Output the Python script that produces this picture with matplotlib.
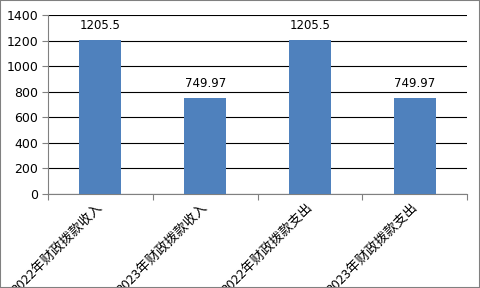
import matplotlib.pyplot as plt
from matplotlib.patches import Rectangle

plt.rcParams['font.family'] = ['Noto Sans CJK SC', 'DejaVu Sans']

categories = ['2022年财政拨款收入', '2023年财政拨款收入', '2022年财政拨款支出', '2023年财政拨款支出']
values = [1205.5, 749.97, 1205.5, 749.97]
value_labels = ['1205.5', '749.97', '1205.5', '749.97']
yticks = [0, 200, 400, 600, 800, 1000, 1200, 1400]

fig = plt.figure(figsize=(4.8, 2.88), dpi=100)
ax = fig.add_axes([48 / 480, 1 - 194 / 288, 419 / 480, 179 / 288])

x = list(range(len(categories)))
ax.bar(x, values, width=0.4, color='#4F81BD', zorder=3)
for xi, v, lab in zip(x, values, value_labels):
    ax.text(xi, v + 65, lab, ha='center', va='bottom', fontsize=8.5, family='DejaVu Sans')

ax.set_xlim(-0.5, len(categories) - 0.5)
ax.set_ylim(0, 1400)
ax.set_yticks(yticks)
ax.set_yticklabels([str(t) for t in yticks], fontsize=9, family='DejaVu Sans')
ax.yaxis.grid(True, color='black', linewidth=0.8, zorder=0)
ax.tick_params(axis='y', length=4, width=0.8, color='#808080', direction='out', pad=3)

ax.set_xticks([i - 0.5 for i in range(len(categories) + 1)])
ax.set_xticklabels([])
ax.tick_params(axis='x', length=4, width=0.8, color='#808080', direction='out')
for xi, cat in zip(x, categories):
    ax.text(xi - 0.04, -50, cat, rotation=45, ha='right', va='top',
            rotation_mode='anchor', fontsize=9.5, transform=ax.transData)

for s in ['top', 'right']:
    ax.spines[s].set_visible(False)
for s in ['left', 'bottom']:
    ax.spines[s].set_color('#808080')
    ax.spines[s].set_linewidth(0.8)

fig.patches.append(Rectangle((0, 0), 1, 1, transform=fig.transFigure, fill=False,
                             edgecolor='#808080', linewidth=1.5))

fig.savefig('out.png', dpi=100)
